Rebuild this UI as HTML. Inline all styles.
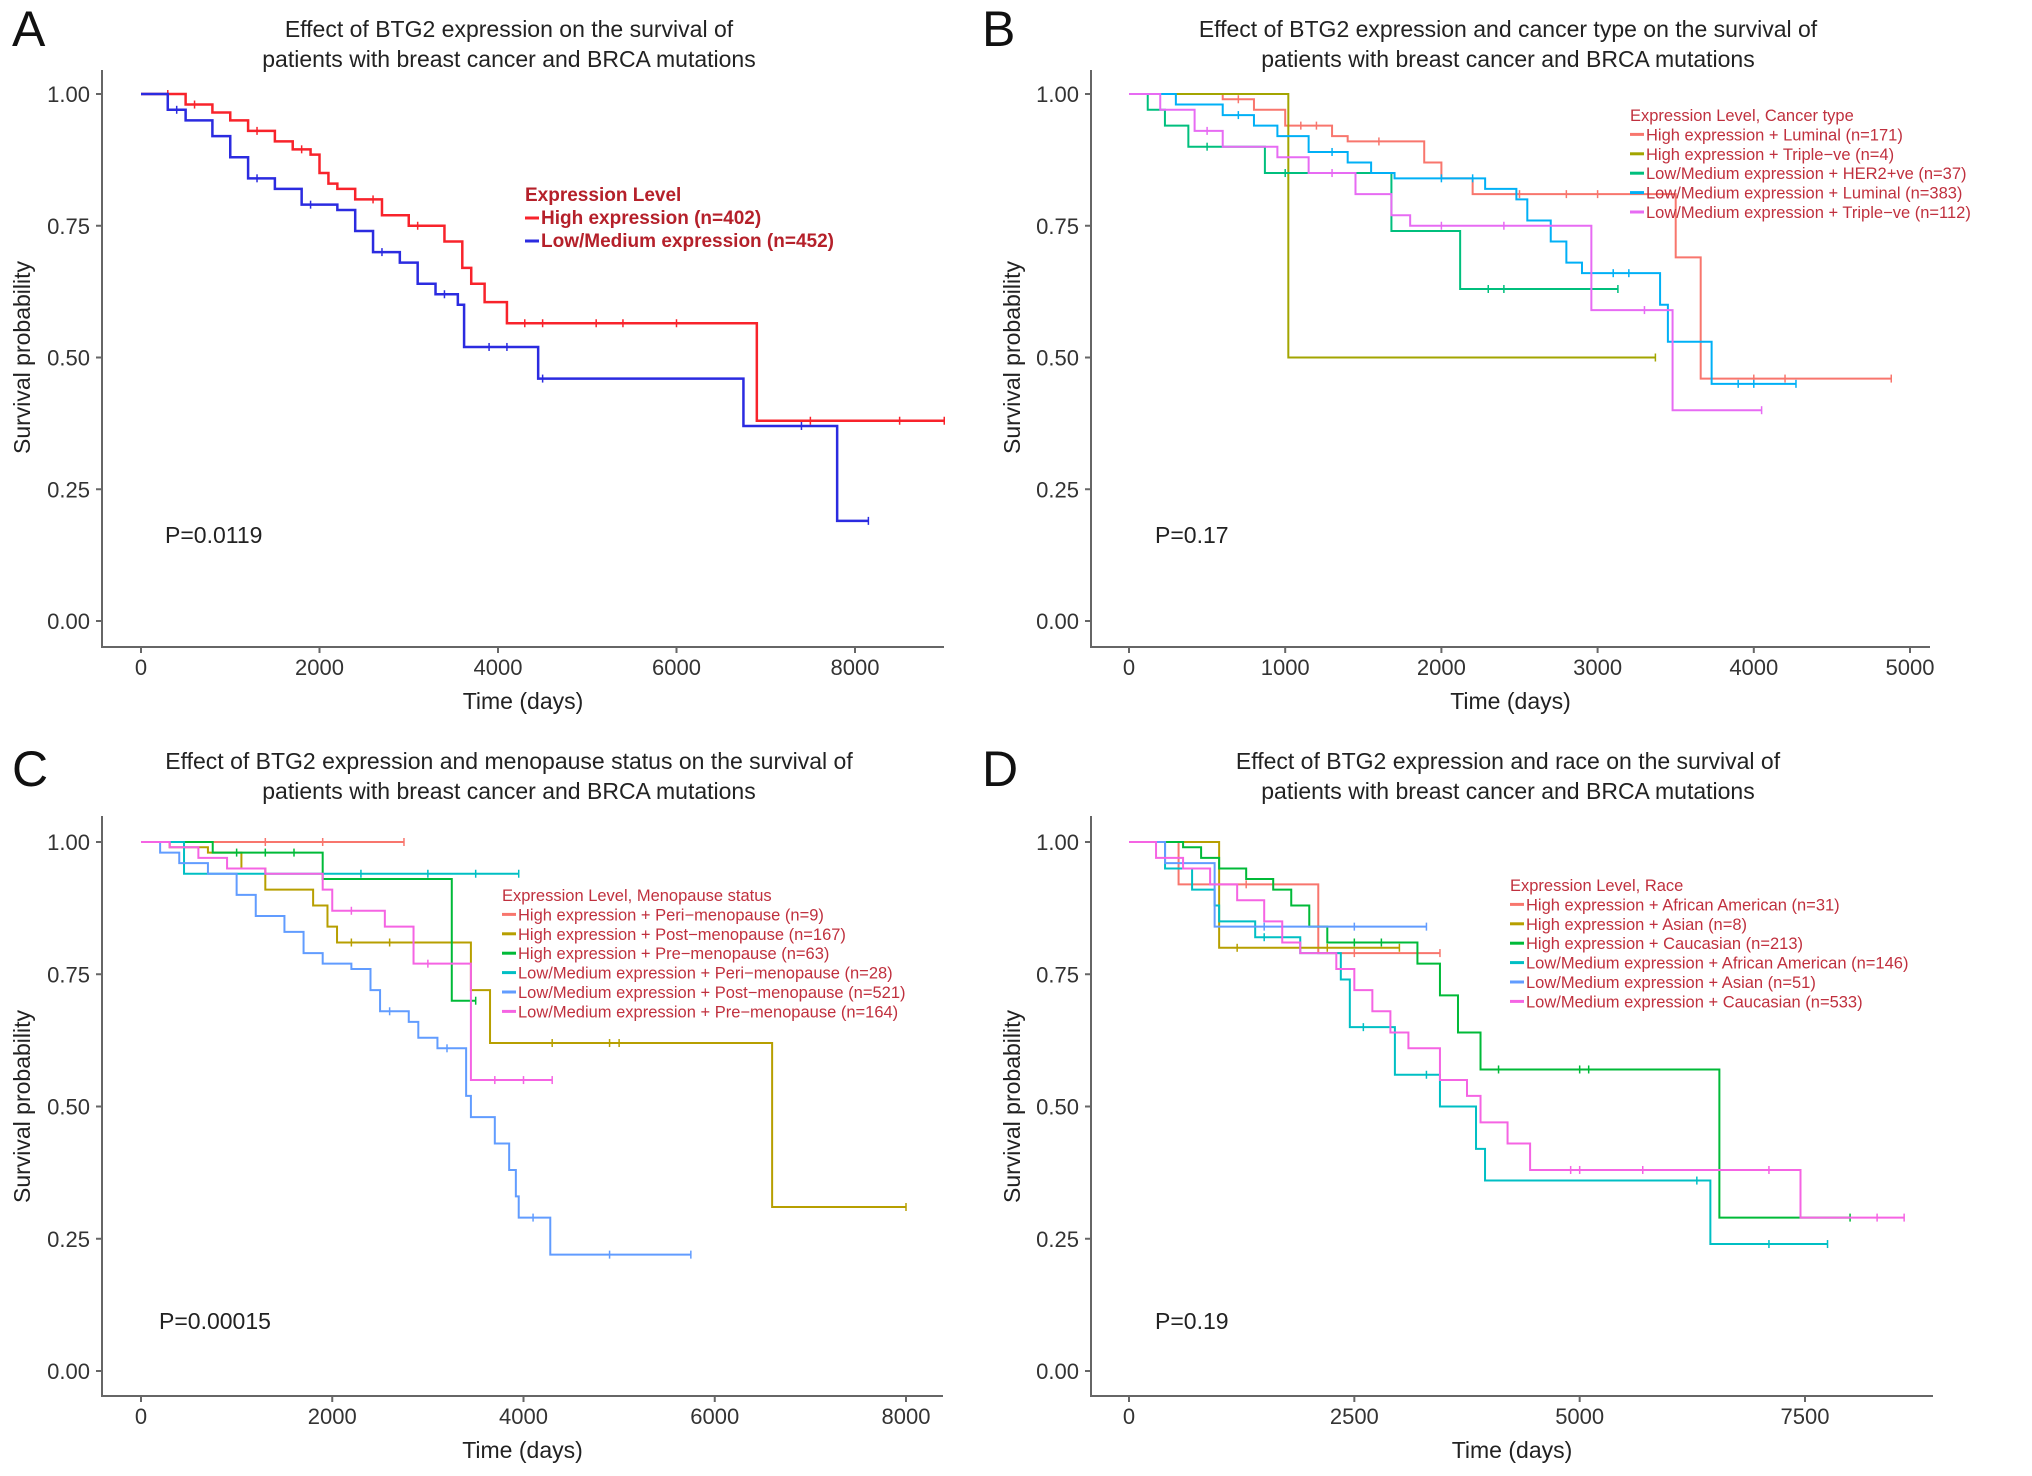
<!DOCTYPE html>
<html><head><meta charset="utf-8">
<style>
html,body{margin:0;padding:0;background:#fff;}
svg{display:block;font-family:"Liberation Sans",Arial,sans-serif;}
</style></head>
<body>
<svg id="fig" width="2032" height="1476" viewBox="0 0 2032 1476" xmlns="http://www.w3.org/2000/svg"></svg>
<script>
// ---------- Panel A data ----------
const aTimesHigh=[500,800,1000,1200,1500,1700,1900,2000,2100,2200,2400,2700,3000,3400,3600,3700,3850,4100,6900];
const aSurvHigh=[0.98,0.965,0.95,0.93,0.91,0.895,0.885,0.85,0.83,0.82,0.80,0.77,0.75,0.72,0.67,0.64,0.605,0.565,0.38];
const aEndHigh=9000;
const aCensHigh=[300,600,1300,1800,2600,3100,4300,4500,5100,5400,6000,7500,8500];
const aTimesLow=[300,500,800,1000,1200,1500,1800,2200,2400,2600,2900,3100,3300,3550,3620,4450,6750,7800];
const aSurvLow=[0.97,0.95,0.92,0.88,0.84,0.82,0.79,0.78,0.74,0.70,0.68,0.64,0.62,0.60,0.52,0.46,0.37,0.19];
const aEndLow=8150;
const aCensLow=[400,1300,1900,2700,3400,3900,4100,4500,7400];
// ---------- Panel B data ----------
const bT1=[600,800,1000,1300,1400,1890,2000,2200,3500,3660]; const bS1=[0.99,0.97,0.94,0.92,0.91,0.87,0.84,0.81,0.69,0.46]; const bE1=4880;
const bT2=[1020]; const bS2=[0.50]; const bE2=3370;
const bT3=[120,230,380,870,1680,2120]; const bS3=[0.97,0.94,0.90,0.85,0.74,0.63]; const bE3=3130;
const bT4=[300,600,800,950,1150,1400,1550,1700,2280,2480,2550,2700,2800,2900,3400,3450,3730]; const bS4=[0.98,0.96,0.94,0.92,0.89,0.87,0.85,0.84,0.82,0.80,0.76,0.72,0.68,0.66,0.60,0.53,0.45]; const bE4=4270;
const bT5=[200,420,600,950,1150,1450,1680,1800,2960,3480]; const bS5=[0.97,0.93,0.90,0.88,0.85,0.81,0.77,0.75,0.59,0.40]; const bE5=4050;
// ---------- Panel C data ----------
const cT1=[]; const cS1=[]; const cE1=2750;
const cT2=[300,700,1050,1300,1800,1950,2050,3450,3650,6600]; const cS2=[0.99,0.98,0.95,0.91,0.88,0.84,0.81,0.72,0.62,0.31]; const cE2=8000;
const cT3=[750,1900,3250]; const cS3=[0.98,0.93,0.70]; const cE3=3500;
const cT4=[450]; const cS4=[0.94]; const cE4=3950;
const cT5=[200,400,700,1000,1200,1500,1700,1900,2200,2400,2500,2800,2900,3100,3400,3450,3700,3850,3920,3950,4280]; const cS5=[0.98,0.96,0.94,0.90,0.86,0.83,0.79,0.77,0.76,0.72,0.68,0.66,0.63,0.61,0.52,0.48,0.43,0.38,0.33,0.29,0.22]; const cE5=5750;
const cT6=[300,600,900,1300,1900,2000,2550,2850,3450]; const cS6=[0.99,0.97,0.95,0.94,0.91,0.87,0.84,0.77,0.55]; const cE6=4300;
// ---------- Panel D data ----------
const dT1=[550,2100]; const dS1=[0.92,0.79]; const dE1=3450;
const dT2=[1000]; const dS2=[0.80]; const dE2=3000;
const dT3=[600,800,1000,1300,1600,1800,2000,2200,3200,3450,3650,3900,6550]; const dS3=[0.99,0.97,0.95,0.93,0.91,0.88,0.84,0.81,0.77,0.71,0.64,0.57,0.29]; const dE3=8000;
const dT4=[400,700,950,1000,1400,1900,2350,2450,2950,3450,3850,3950,6450]; const dS4=[0.95,0.91,0.88,0.85,0.82,0.79,0.74,0.65,0.56,0.50,0.42,0.36,0.24]; const dE4=7750;
const dT5=[400,950]; const dS5=[0.96,0.84]; const dE5=3300;
const dT6=[300,600,900,1200,1500,1700,1900,2300,2500,2700,2900,3100,3450,3750,3900,4200,4450,7450]; const dS6=[0.97,0.95,0.92,0.89,0.85,0.81,0.79,0.76,0.72,0.68,0.64,0.61,0.55,0.52,0.47,0.43,0.38,0.29]; const dE6=8600;
// tick labels
const yTicks=[0,0.25,0.5,0.75,1];
const yTickLabels=["0.00","0.25","0.50","0.75","1.00"];
const xTicksA=[0,2000,4000,6000,8000];
const xTicksB=[0,1000,2000,3000,4000,5000];
const xTicksC=[0,2000,4000,6000,8000];
const xTicksD=[0,2500,5000,7500];

const NS="http://www.w3.org/2000/svg";
const svg=document.getElementById('fig');
function mk(tag,attrs,parent){const e=document.createElementNS(NS,tag);for(const k in attrs)e.setAttribute(k,attrs[k]);(parent||svg).appendChild(e);return e;}
function txt(s,attrs,parent){const e=mk('text',attrs,parent);e.textContent=s;return e;}

function panel(cfg){
  const g=mk('g',{});
  
  
  const xs=t=>cfg.x0+(t-0)*(cfg.x1-cfg.x0)/cfg.xmaxVal;
  const ys=v=>cfg.y0-(v)*(cfg.y0-cfg.y1);
  const L=txt(cfg.letter,{x:cfg.letterX,y:cfg.letterY,'font-size':50,fill:'#111'},g);
  
  
  cfg.title.forEach((s,i)=>{const t=txt(s,{x:cfg.titleX,y:cfg.titleY+i*30,'font-size':23,'text-anchor':'middle',fill:'#222'},g);
    
    });
  const ax=mk('path',{d:`M${cfg.axL} ${cfg.axTop}V${cfg.axBot}H${cfg.axR}`,stroke:'#666',fill:'none','stroke-width':2},g);
  
  
  yTicks.forEach((v,i)=>{
    mk('line',{x1:cfg.axL-6,x2:cfg.axL,y1:ys(v),y2:ys(v),stroke:'#666','stroke-width':2},g);
    const t=txt(yTickLabels[i],{x:cfg.axL-12,y:ys(v)+8,'font-size':22,'text-anchor':'end',fill:'#333'},g);
    
    
  });
  cfg.xticks.forEach(v=>{
    mk('line',{x1:xs(v),x2:xs(v),y1:cfg.axBot,y2:cfg.axBot+6,stroke:'#666','stroke-width':2},g);
    const t=txt(String(v),{x:xs(v),y:cfg.axBot+28,'font-size':22,'text-anchor':'middle',fill:'#333'},g);
    
    
  });
  const xt=txt('Time (days)',{x:(cfg.axL+cfg.axR)/2,y:cfg.axBot+62,'font-size':23,'text-anchor':'middle',fill:'#222'},g);
  
  
  const yc=(cfg.y0+cfg.y1)/2;
  const yt=txt('Survival probability',{x:cfg.yTitleX,y:yc,'font-size':23,'text-anchor':'middle',fill:'#222',transform:`rotate(-90 ${cfg.yTitleX} ${yc})`},g);
  
  
  cfg.series.forEach((s,si)=>{
    let d=`M${xs(0)} ${ys(1)}`;
    for(let i=0;i<s.t.length;i++){d+=`H${xs(s.t[i])}V${ys(s.s[i])}`;}
    d+=`H${xs(s.end)}`;
    const p=mk('path',{d:d,stroke:s.color,fill:'none','stroke-width':cfg.sw},g);
    
    
    const cens=(s.c||[]).concat([s.end]);
    cens.forEach(ct=>{
      let v=1;for(let i=0;i<s.t.length;i++){if(s.t[i]<=ct)v=s.s[i];}
      const m=mk('line',{x1:xs(ct),x2:xs(ct),y1:ys(v)-4,y2:ys(v)+4,stroke:s.color,'stroke-width':1.5},g);
      
      
    });
  });
  const pv=txt(cfg.pval,{x:cfg.pX,y:cfg.pY,'font-size':23,fill:'#222'},g);
  
  
  const lg=mk('g',{},g);
  
  
  txt(cfg.legTitle,{x:cfg.legX,y:cfg.legY,'font-size':cfg.legFs,fill:cfg.legColor,'font-weight':cfg.legBold?'bold':'normal'},lg);
  cfg.series.forEach((s,i)=>{
    const y=cfg.legY+cfg.legStep*(i+1);
    mk('line',{x1:cfg.legX,x2:cfg.legX+14,y1:y-6,y2:y-6,stroke:s.color,'stroke-width':3},lg);
    const e=txt(s.label,{x:cfg.legX+16,y:y,'font-size':cfg.legFs,fill:cfg.legColor,'font-weight':cfg.legBold?'bold':'normal'},lg);
    
    
  });
}

panel({name:'panel-a',letter:'A',letterX:12,letterY:46,title:['Effect of BTG2 expression on the survival of','patients with breast cancer and BRCA mutations'],titleX:509,titleY:37,
 x0:141,x1:855,xmaxVal:8000,y0:621,y1:94,axL:102,axR:944,axTop:70,axBot:647,xticks:xTicksA,yTitleX:30,sw:2.5,
 pval:'P=0.0119',pX:165,pY:543,legTitle:'Expression Level',legX:525,legY:201,legStep:23,legFs:19,legColor:'#B5202A',legBold:true,
 series:[{t:aTimesHigh,s:aSurvHigh,end:aEndHigh,c:aCensHigh,color:'#F8232B',label:'High expression (n=402)'},
         {t:aTimesLow,s:aSurvLow,end:aEndLow,c:aCensLow,color:'#2B2BE0',label:'Low/Medium expression (n=452)'}]});

panel({name:'panel-b',letter:'B',letterX:982,letterY:46,title:['Effect of BTG2 expression and cancer type on the survival of','patients with breast cancer and BRCA mutations'],titleX:1508,titleY:37,
 x0:1129,x1:1910,xmaxVal:5000,y0:621,y1:94,axL:1091,axR:1930,axTop:70,axBot:647,xticks:xTicksB,yTitleX:1020,sw:2,
 pval:'P=0.17',pX:1155,pY:543,legTitle:'Expression Level, Cancer type',legX:1630,legY:121,legStep:19.4,legFs:16.5,legColor:'#C0303E',legBold:false,
 series:[{t:bT1,s:bS1,end:bE1,c:[700,1100,1200,1600,2500,2800,3000,4000,4200],color:'#F8766D',label:'High expression + Luminal (n=171)'},
         {t:bT2,s:bS2,end:bE2,c:[],color:'#A3A500',label:'High expression + Triple−ve (n=4)'},
         {t:bT3,s:bS3,end:bE3,c:[500,1000,2300,2400],color:'#00BF7D',label:'Low/Medium expression + HER2+ve (n=37)'},
         {t:bT4,s:bS4,end:bE4,c:[700,1300,2000,2200,3100,3200,3900,4000],color:'#00B0F6',label:'Low/Medium expression + Luminal (n=383)'},
         {t:bT5,s:bS5,end:bE5,c:[500,1300,2000,2400,3300],color:'#E76BF3',label:'Low/Medium expression + Triple−ve (n=112)'}]});

panel({name:'panel-c',letter:'C',letterX:12,letterY:786,title:['Effect of BTG2 expression and menopause status on the survival of','patients with breast cancer and BRCA mutations'],titleX:509,titleY:769,
 x0:141,x1:906,xmaxVal:8000,y0:1371,y1:842,axL:102,axR:943,axTop:816,axBot:1396,xticks:xTicksC,yTitleX:30,sw:2,
 pval:'P=0.00015',pX:159,pY:1329,legTitle:'Expression Level, Menopause status',legX:502,legY:901,legStep:19.4,legFs:16.5,legColor:'#C0303E',legBold:false,
 series:[{t:cT1,s:cS1,end:cE1,c:[1300,1900],color:'#F8766D',label:'High expression + Peri−menopause (n=9)'},
         {t:cT2,s:cS2,end:cE2,c:[2200,2600,4300,4900,5000],color:'#B79F00',label:'High expression + Post−menopause (n=167)'},
         {t:cT3,s:cS3,end:cE3,c:[1000,1300,1600],color:'#00BA38',label:'High expression + Pre−menopause (n=63)'},
         {t:cT4,s:cS4,end:cE4,c:[2300,3000,3500],color:'#00BFC4',label:'Low/Medium expression + Peri−menopause (n=28)'},
         {t:cT5,s:cS5,end:cE5,c:[2600,3200,4100,4900],color:'#619CFF',label:'Low/Medium expression + Post−menopause (n=521)'},
         {t:cT6,s:cS6,end:cE6,c:[2200,3000,3700,4000],color:'#F564E3',label:'Low/Medium expression + Pre−menopause (n=164)'}]});

panel({name:'panel-d',letter:'D',letterX:982,letterY:786,title:['Effect of BTG2 expression and race on the survival of','patients with breast cancer and BRCA mutations'],titleX:1508,titleY:769,
 x0:1129,x1:1805,xmaxVal:7500,y0:1371,y1:842,axL:1091,axR:1933,axTop:816,axBot:1396,xticks:xTicksD,yTitleX:1020,sw:2,
 pval:'P=0.19',pX:1155,pY:1329,legTitle:'Expression Level, Race',legX:1510,legY:891,legStep:19.4,legFs:16.5,legColor:'#C0303E',legBold:false,
 series:[{t:dT1,s:dS1,end:dE1,c:[1300,2500],color:'#F8766D',label:'High expression + African American (n=31)'},
         {t:dT2,s:dS2,end:dE2,c:[1200,2200],color:'#B79F00',label:'High expression + Asian (n=8)'},
         {t:dT3,s:dS3,end:dE3,c:[2500,2800,4100,5000,5100],color:'#00BA38',label:'High expression + Caucasian (n=213)'},
         {t:dT4,s:dS4,end:dE4,c:[1500,2600,3300,6300,7100],color:'#00BFC4',label:'Low/Medium expression + African  American (n=146)'},
         {t:dT5,s:dS5,end:dE5,c:[1500,2500],color:'#619CFF',label:'Low/Medium expression + Asian (n=51)'},
         {t:dT6,s:dS6,end:dE6,c:[4900,5000,5700,7100,8300],color:'#F564E3',label:'Low/Medium expression + Caucasian (n=533)'}]});
</script>
</body></html>
